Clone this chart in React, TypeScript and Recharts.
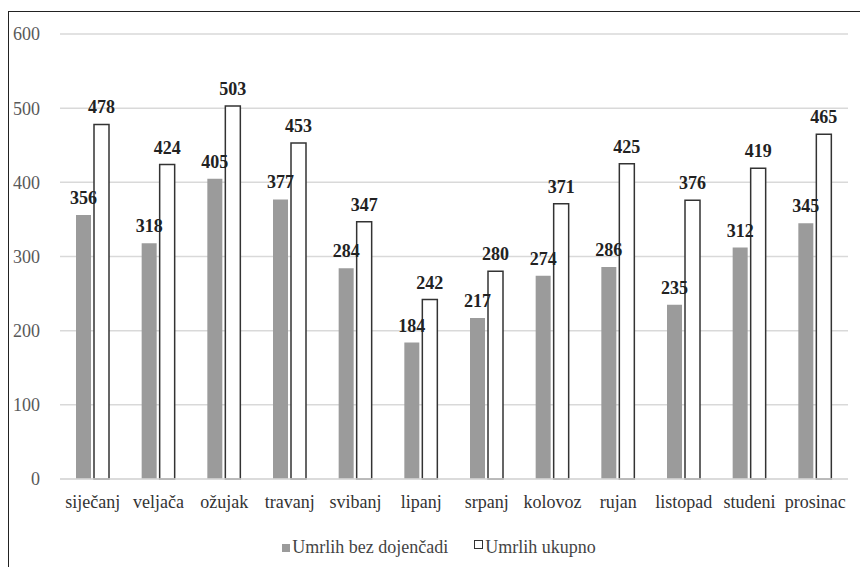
import { BarChart, Bar, XAxis, YAxis, CartesianGrid, Legend, LabelList } from 'recharts'

const months = ['siječanj', 'veljača', 'ožujak', 'travanj', 'svibanj', 'lipanj', 'srpanj', 'kolovoz', 'rujan', 'listopad', 'studeni', 'prosinac']
const bezDojencadi = [356, 318, 405, 377, 284, 184, 217, 274, 286, 235, 312, 345]
const ukupno = [478, 424, 503, 453, 347, 242, 280, 371, 425, 376, 419, 465]
const yTicks = [0, 100, 200, 300, 400, 500, 600]

const seriesNames = ['Umrlih bez dojenčadi', 'Umrlih ukupno']

const data = months.map((m, i) => ({ month: m, bez: bezDojencadi[i], ukupno: ukupno[i] }))

const font = 'Liberation Serif, Times New Roman, serif'

function LegendContent() {
  return (
    <div style={{ display: 'flex', justifyContent: 'center', gap: 26, fontFamily: font, fontSize: 18, color: '#444', paddingLeft: 30 }}>
      <span style={{ display: 'flex', alignItems: 'center' }}>
        <span style={{ width: 8, height: 8, background: '#9b9b9b', marginRight: 2 }} />
        {seriesNames[0]}
      </span>
      <span style={{ display: 'flex', alignItems: 'center' }}>
        <span style={{ width: 7, height: 7, background: '#fff', border: '1.5px solid #333', marginRight: 2, marginTop: -6 }} />
        {seriesNames[1]}
      </span>
    </div>
  )
}

export default function App() {
  return (
    <div style={{ position: 'absolute', left: 0, top: 0, width: 860, height: 567, background: '#fff', overflow: 'hidden', fontFamily: font }}>
      <div style={{ position: 'absolute', left: 8, top: 11, width: 900, height: 600, borderLeft: '1.5px solid #222', borderTop: '1.5px solid #222' }} />
      <BarChart
        width={860}
        height={567}
        data={data}
        margin={{ top: 34, right: 12, left: 0, bottom: 10 }}
        barSize={15}
        barGap={3}
        style={{ position: 'absolute', left: 0, top: 0, fontFamily: font }}
      >
        <CartesianGrid vertical={false} stroke="#d9d9d9" strokeWidth={1.5} />
        <XAxis
          dataKey="month"
          tick={{ fill: '#333', fontSize: 18, fontFamily: font }}
          axisLine={{ stroke: '#d9d9d9', strokeWidth: 1.5 }}
          tickLine={false}
          height={58}
          tickMargin={10}
          interval={0}
        />
        <YAxis
          domain={[0, 600]}
          ticks={yTicks}
          tick={{ fill: '#595959', fontSize: 18, fontFamily: font }}
          axisLine={false}
          tickLine={false}
          width={60}
          tickMargin={14}
        />
        <Legend verticalAlign="bottom" height={20} content={<LegendContent />} />
        <Bar dataKey="bez" name={seriesNames[0]} fill="#9b9b9b" isAnimationActive={false}>
          <LabelList dataKey="bez" position="top" offset={11} style={{ fill: '#222', fontSize: 18, fontWeight: 'bold', fontFamily: font }} />
        </Bar>
        <Bar dataKey="ukupno" name={seriesNames[1]} fill="#fff" stroke="#333" strokeWidth={1.5} isAnimationActive={false}>
          <LabelList dataKey="ukupno" position="top" offset={11} style={{ fill: '#222', fontSize: 18, fontWeight: 'bold', fontFamily: font, stroke: 'none' }} />
        </Bar>
      </BarChart>
    </div>
  )
}
